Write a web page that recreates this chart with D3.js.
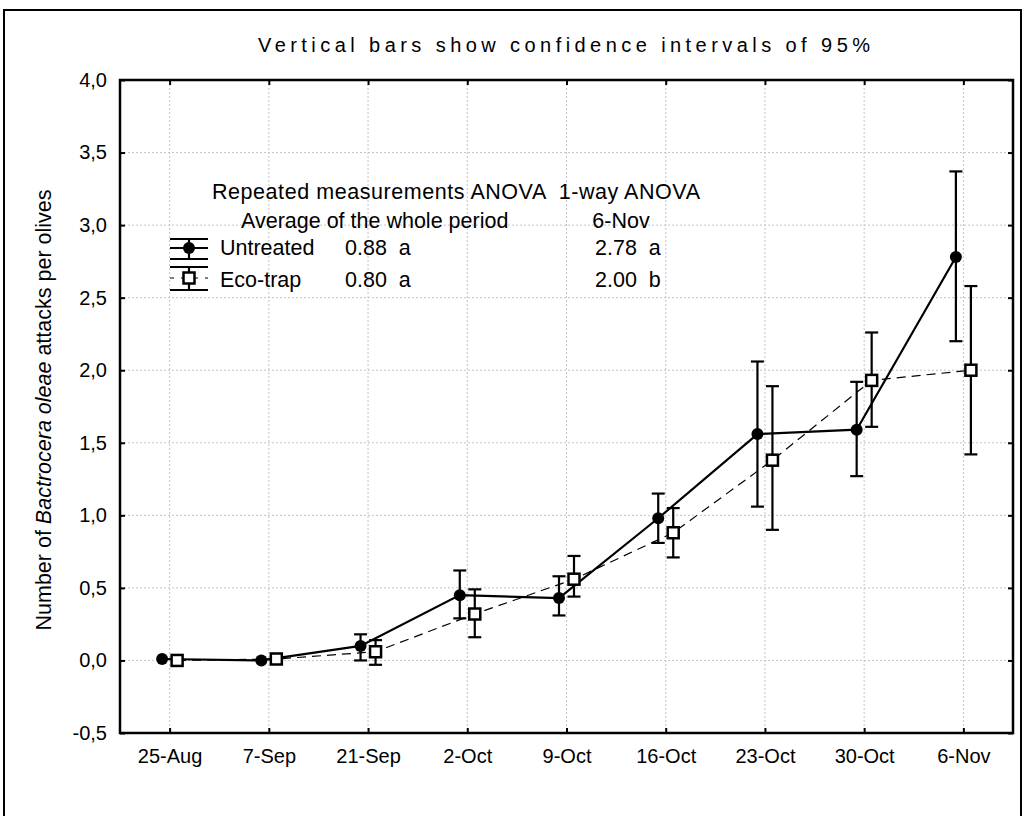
<!DOCTYPE html>
<html>
<head>
<meta charset="utf-8">
<script src="https://cdn.jsdelivr.net/npm/d3@7"></script>
<style>
  body { margin: 0; background: #fff; }
  text { font-family: "Liberation Sans", Arial, sans-serif; fill: #000; }
</style>
</head>
<body>
<div class="chart"></div>
<script>
// sampling dates (x categories)
const dates = ["25-Aug", "7-Sep", "21-Sep", "2-Oct", "9-Oct", "16-Oct", "23-Oct", "30-Oct", "6-Nov"];

// Untreated: mean and 95% confidence limits
const untreatedMean = [0.01, 0.00, 0.10, 0.45, 0.43, 0.98, 1.56, 1.59, 2.78];
const untreatedLow  = [0.01, 0.00, 0.00, 0.29, 0.31, 0.81, 1.06, 1.27, 2.20];
const untreatedHigh = [0.01, 0.00, 0.18, 0.62, 0.58, 1.15, 2.06, 1.92, 3.37];

// Eco-trap: mean and 95% confidence limits
const ecoMean = [0.00, 0.01, 0.06, 0.32, 0.56, 0.88, 1.38, 1.93, 2.00];
const ecoLow  = [0.00, 0.01, -0.03, 0.16, 0.44, 0.71, 0.90, 1.61, 1.42];
const ecoHigh = [0.00, 0.01, 0.14, 0.49, 0.72, 1.05, 1.89, 2.26, 2.58];

// y axis ticks
const yTicks = [-0.5, 0, 0.5, 1, 1.5, 2, 2.5, 3, 3.5, 4];

// legend texts
const legendHeader = "Repeated measurements ANOVA  1-way ANOVA";
const legendSub = ["Average of the whole period", "6-Nov"];
const legendRows = [
  {name: "Untreated", avg: "0.88  a", last: "2.78  a"},
  {name: "Eco-trap", avg: "0.80  a", last: "2.00  b"}
];

const W = 1024, H = 816;
const plot = {left: 120, right: 1013, top: 80, bottom: 733};

const svg = d3.select(".chart").append("svg")
  .attr("width", W)
  .attr("height", H);

// outer frame
svg.append("rect")
  .attr("x", 4).attr("y", 10)
  .attr("width", 1017).attr("height", 820)
  .attr("fill", "none").attr("stroke", "#000").attr("stroke-width", 2);

const x = d3.scalePoint()
  .domain(dates)
  .range([plot.left, plot.right])
  .padding(0.5);

const y = d3.scaleLinear()
  .domain([-0.5, 4])
  .range([plot.bottom, plot.top]);

const fmt = v => d3.format(".1f")(v).replace(".", ",").replace("−", "-");

// grid lines (dotted)
const grid = svg.append("g").attr("stroke", "#c4c4c4").attr("stroke-width", 1)
  .attr("stroke-dasharray", "2,2");
yTicks.forEach(t => {
  grid.append("line")
    .attr("x1", plot.left).attr("x2", plot.right)
    .attr("y1", y(t)).attr("y2", y(t));
});
dates.forEach(d => {
  grid.append("line")
    .attr("x1", x(d)).attr("x2", x(d))
    .attr("y1", plot.top).attr("y2", plot.bottom);
});

// axes
const yAxis = svg.append("g")
  .attr("transform", `translate(${plot.left},0)`)
  .call(d3.axisLeft(y).tickValues(yTicks).tickFormat(fmt).tickSize(-5).tickPadding(13));
const yAxisR = svg.append("g")
  .attr("transform", `translate(${plot.right},0)`)
  .call(d3.axisRight(y).tickValues(yTicks).tickFormat("").tickSize(-5));
const xAxis = svg.append("g")
  .attr("transform", `translate(0,${plot.bottom})`)
  .call(d3.axisBottom(x).tickSize(-5).tickPadding(13));
const xAxisT = svg.append("g")
  .attr("transform", `translate(0,${plot.top})`)
  .call(d3.axisTop(x).tickFormat("").tickSize(-5));

[yAxis, yAxisR, xAxis, xAxisT].forEach(a => {
  a.select(".domain").remove();
  a.selectAll(".tick line").attr("stroke", "#000").attr("stroke-width", 2);
  a.selectAll(".tick text")
    .style("font-family", "'Liberation Sans', Arial, sans-serif")
    .style("font-size", "20px")
    .attr("fill", "#000");
});
xAxis.selectAll(".tick text").attr("dy", "0.85em");

// plot frame
svg.append("rect")
  .attr("x", plot.left).attr("y", plot.top)
  .attr("width", plot.right - plot.left).attr("height", plot.bottom - plot.top)
  .attr("fill", "none").attr("stroke", "#000").attr("stroke-width", 2.5);

// series
const offset = 7.5;
const untreated = dates.map((d, i) => ({d, m: untreatedMean[i], lo: untreatedLow[i], hi: untreatedHigh[i]}));
const eco = dates.map((d, i) => ({d, m: ecoMean[i], lo: ecoLow[i], hi: ecoHigh[i]}));

const ux = d => x(d.d) - offset;
const ex = d => x(d.d) + offset;

svg.append("path")
  .datum(eco)
  .attr("fill", "none").attr("stroke", "#000").attr("stroke-width", 1.2)
  .attr("stroke-dasharray", "9,6")
  .attr("d", d3.line().x(ex).y(d => y(d.m)));

svg.append("path")
  .datum(untreated)
  .attr("fill", "none").attr("stroke", "#000").attr("stroke-width", 2.2)
  .attr("d", d3.line().x(ux).y(d => y(d.m)));

function errorBars(data, xf) {
  const g = svg.append("g").attr("stroke", "#000").attr("stroke-width", 2.2);
  data.filter(d => d.hi > d.lo).forEach(d => {
    const cx = xf(d);
    g.append("line").attr("x1", cx).attr("x2", cx).attr("y1", y(d.lo)).attr("y2", y(d.hi));
    g.append("line").attr("x1", cx - 6.5).attr("x2", cx + 6.5).attr("y1", y(d.lo)).attr("y2", y(d.lo));
    g.append("line").attr("x1", cx - 6.5).attr("x2", cx + 6.5).attr("y1", y(d.hi)).attr("y2", y(d.hi));
  });
}
errorBars(untreated, ux);
errorBars(eco, ex);

svg.append("g").selectAll("circle")
  .data(untreated).join("circle")
  .attr("cx", ux).attr("cy", d => y(d.m)).attr("r", 6)
  .attr("fill", "#000");

svg.append("g").selectAll("rect")
  .data(eco).join("rect")
  .attr("x", d => ex(d) - 5.5).attr("y", d => y(d.m) - 5.5)
  .attr("width", 11).attr("height", 11)
  .attr("fill", "#fff").attr("stroke", "#000").attr("stroke-width", 2.5);

// title
svg.append("text")
  .attr("x", 258).attr("y", 52)
  .attr("textLength", 612).attr("lengthAdjust", "spacing")
  .style("font-size", "20px")
  .text("Vertical bars show confidence intervals of 95%");

// y axis label
const yl = svg.append("text")
  .attr("transform", "translate(51,410) rotate(-90)")
  .attr("text-anchor", "middle")
  .style("font-size", "21.5px");
yl.append("tspan").text("Number of ");
yl.append("tspan").style("font-style", "italic").text("Bactrocera oleae");
yl.append("tspan").text(" attacks per olives");

// legend
const lg = svg.append("g").style("font-size", "21.5px");
lg.append("text").attr("x", 212).attr("y", 199).attr("xml:space", "preserve")
  .attr("textLength", 488).attr("lengthAdjust", "spacing")
  .text(legendHeader);
lg.append("text").attr("x", 241).attr("y", 228).text(legendSub[0]);
lg.append("text").attr("x", 621).attr("y", 228).attr("text-anchor", "middle").text(legendSub[1]);

const rowY = [255, 287];
legendRows.forEach((r, i) => {
  lg.append("text").attr("x", 220).attr("y", rowY[i]).text(r.name);
  lg.append("text").attr("x", 345).attr("y", rowY[i]).attr("xml:space", "preserve").text(r.avg);
  lg.append("text").attr("x", 595).attr("y", rowY[i]).attr("xml:space", "preserve").text(r.last);
});

// legend symbols
const sx0 = 170, sx1 = 208, scx = 189;
const sym = svg.append("g").attr("stroke", "#000").attr("stroke-width", 2.2);
// untreated
[239, 259].forEach(yy => sym.append("line").attr("x1", sx0).attr("x2", sx1).attr("y1", yy).attr("y2", yy));
sym.append("line").attr("x1", sx0).attr("x2", sx1).attr("y1", 248).attr("y2", 248);
sym.append("line").attr("x1", scx).attr("x2", scx).attr("y1", 239).attr("y2", 259);
svg.append("circle").attr("cx", scx).attr("cy", 248).attr("r", 6).attr("fill", "#000");
// eco-trap
[267, 290].forEach(yy => sym.append("line").attr("x1", sx0).attr("x2", sx1).attr("y1", yy).attr("y2", yy));
sym.append("line").attr("x1", scx).attr("x2", scx).attr("y1", 267).attr("y2", 290);
svg.append("line").attr("x1", sx0).attr("x2", sx1).attr("y1", 278).attr("y2", 278)
  .attr("stroke", "#000").attr("stroke-width", 1.2).attr("stroke-dasharray", "5,7").attr("stroke-dashoffset", 1);
svg.append("rect").attr("x", scx - 5.5).attr("y", 272.5).attr("width", 11).attr("height", 11)
  .attr("fill", "#fff").attr("stroke", "#000").attr("stroke-width", 2.5);
</script>
</body>
</html>
